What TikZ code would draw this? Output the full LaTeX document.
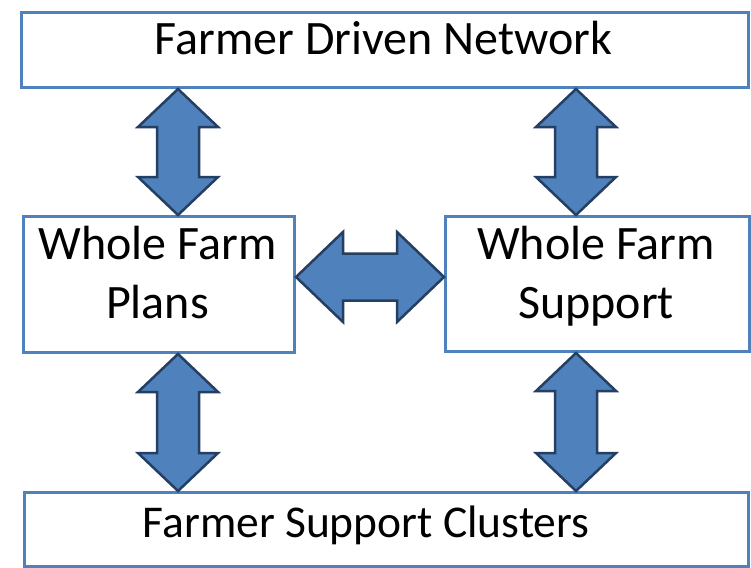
\documentclass[tikz,border=0pt]{standalone}
\usepackage{fontspec}
\setmainfont{Carlito}
\usetikzlibrary{calc}
\definecolor{boxblue}{HTML}{4F81BD}
\definecolor{arrfill}{HTML}{4F81BD}
\definecolor{arrline}{HTML}{253F62}
\tikzset{
  boxnode/.style={draw=boxblue, line width=3pt, fill=white, rectangle, anchor=north west, inner sep=0pt},
  lbl/.style={font=\fontsize{48}{58}\selectfont, align=center, anchor=base, inner sep=0pt, text=black},
  arrstyle/.style={fill=arrfill, draw=arrline, line width=2.5pt, line join=miter}
}
\newcommand\vdarr[2]{%
  \path[arrstyle] let \p1=(#1), \p2=(#2) in
    (\x1,\y1) -- (\x1+40pt,\y1-38pt) -- (\x1+21pt,\y1-38pt) -- (\x1+21pt,\y2+38pt)
    -- (\x1+40pt,\y2+38pt) -- (\x1,\y2) -- (\x1-40pt,\y2+38pt) -- (\x1-21pt,\y2+38pt)
    -- (\x1-21pt,\y1-38pt) -- (\x1-40pt,\y1-38pt) -- cycle;}
\newcommand\hdarr[2]{%
  \path[arrstyle] let \p1=(#1), \p2=(#2) in
    (\x1,\y1) -- (\x1+47pt,\y1+45pt) -- (\x1+47pt,\y1+23.5pt) -- (\x2-47pt,\y1+23.5pt)
    -- (\x2-47pt,\y1+45pt) -- (\x2,\y1) -- (\x2-47pt,\y1-45pt) -- (\x2-47pt,\y1-23.5pt)
    -- (\x1+47pt,\y1-23.5pt) -- (\x1+47pt,\y1-45pt) -- cycle;}
\begin{document}
\begin{tikzpicture}[x=1pt,y=-1pt]
\useasboundingbox (0,0) rectangle (751,567);
\fill[white] (0,0) rectangle (751,567);
% boxes
\node[boxnode, minimum width=727pt, minimum height=75pt] (top) at (20,11) {};
\node[boxnode, minimum width=271pt, minimum height=136pt] (wfp) at (22,215) {};
\node[boxnode, minimum width=304pt, minimum height=135pt] (wfs) at (444,215) {};
\node[boxnode, minimum width=724pt, minimum height=74pt] (fsc) at (23,491) {};
% labels
\node[lbl] (ttop) at (383.5,55) {Farmer Driven Network};
\node[lbl] (twfp1) at (157.5,259) {Whole Farm};
\node[lbl] (twfp2) at (157.5,318) {Plans};
\node[lbl] (twfs1) at (596,259) {Whole Farm};
\node[lbl] (twfs2) at (596,318) {Support};
\node[lbl, font=\fontsize{45.5}{56}\selectfont] (tfsc) at (366,537) {Farmer Support Clusters};
% helper coordinates
\coordinate (xl) at (178,0);
\coordinate (xr) at (576,0);
\coordinate (yh) at (0,277);
% arrows
\vdarr{top.south -| xl}{wfp.north -| xl}
\vdarr{top.south -| xr}{wfs.north -| xr}
\vdarr{wfp.south -| xl}{fsc.north -| xl}
\vdarr{wfs.south -| xr}{fsc.north -| xr}
\hdarr{wfp.east |- yh}{wfs.west |- yh}
\end{tikzpicture}
\end{document}
